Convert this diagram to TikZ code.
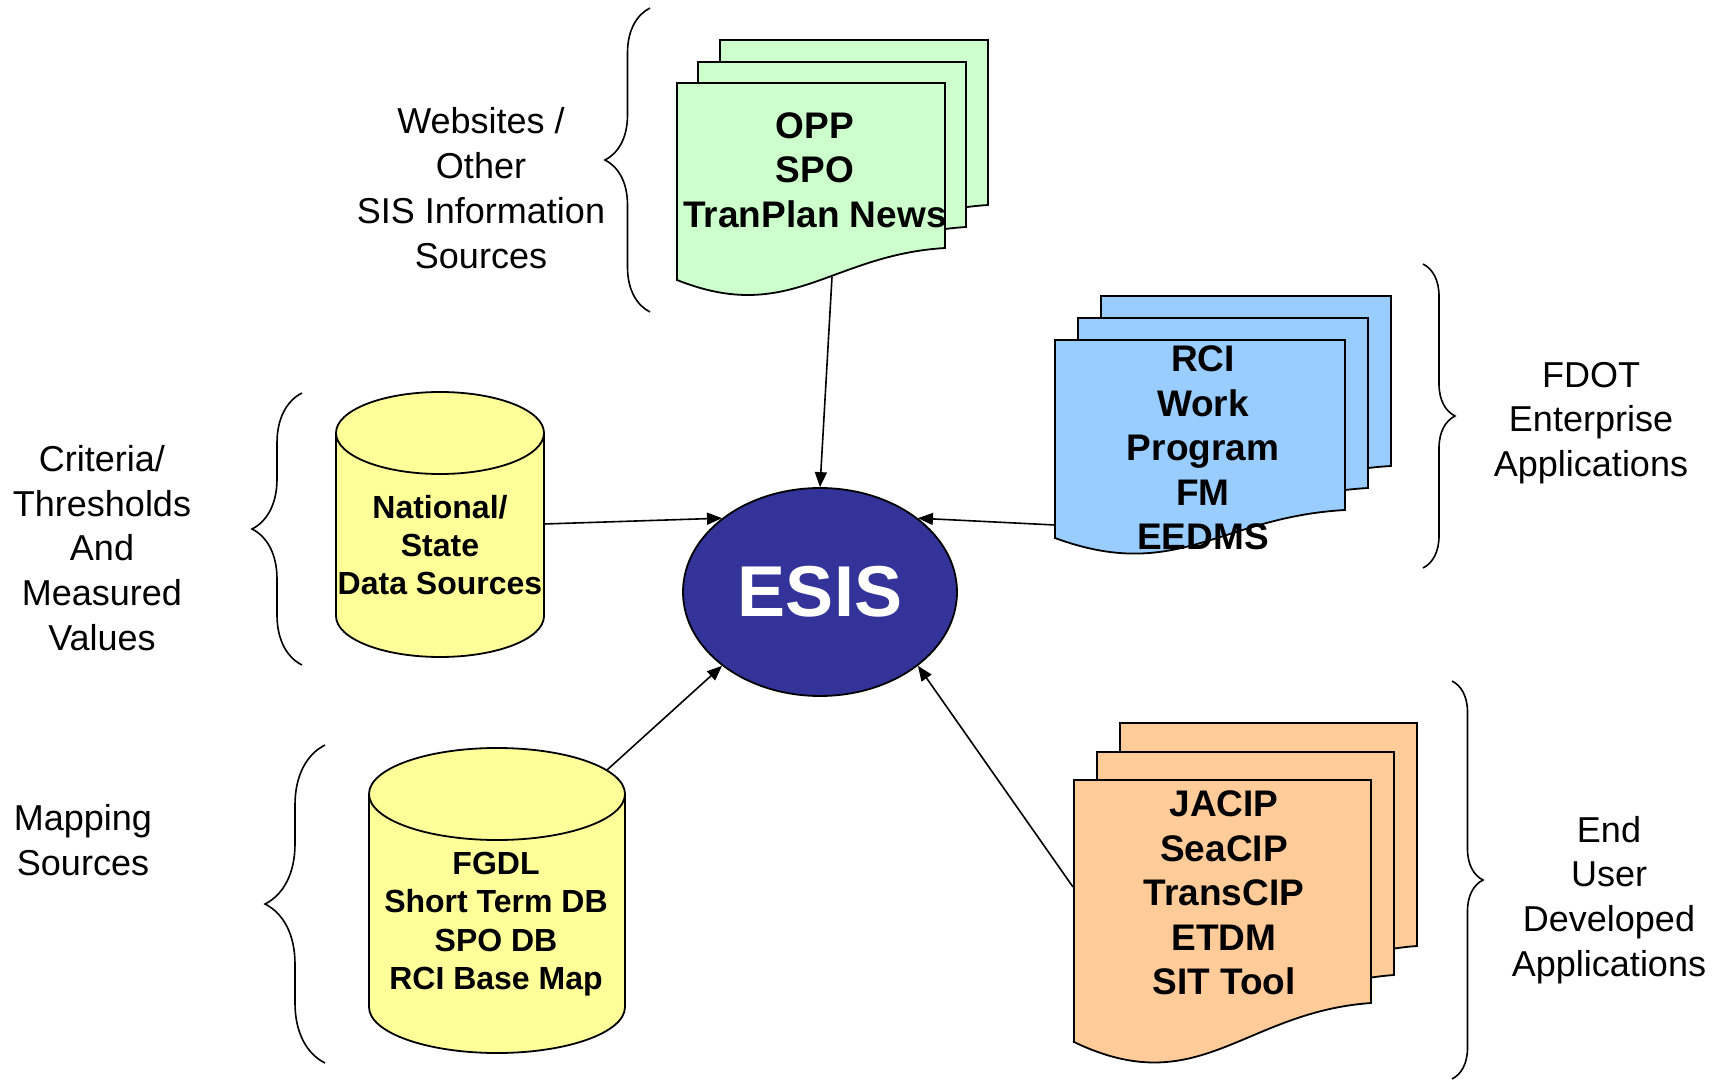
\documentclass[tikz,border=0pt]{standalone}
\usepackage{fontspec}
\setmainfont{Liberation Sans}
\usetikzlibrary{arrows.meta, shapes.geometric, decorations.pathreplacing}
\definecolor{docgreen}{HTML}{CCFFCC}
\definecolor{docblue}{HTML}{99CCFF}
\definecolor{docorange}{HTML}{FFCC99}
\definecolor{dbyellow}{HTML}{FFFF99}
\definecolor{esisblue}{HTML}{333399}

\begin{document}
\begin{tikzpicture}[x=0.5pt,y=0.5pt]
\tikzstyle{every node}+=[inner sep=0pt]
\tikzstyle{page}=[draw=black, line width=0.9pt]
\tikzstyle{can}=[draw=black, line width=0.9pt, fill=dbyellow]
\tikzstyle{pagetext}=[align=center, font=\bfseries\fontsize{18.5}{22.3}\selectfont]
\tikzstyle{cantext}=[align=center, font=\bfseries\fontsize{16}{19.2}\selectfont]
\tikzstyle{grouplabel}=[align=center, font=\fontsize{18}{22.4}\selectfont]
\tikzstyle{groupbrace}=[decorate, line width=0.8pt]
\tikzstyle{feed}=[-{Triangle[length=7.5pt,width=6pt]}, line width=0.8pt]
\useasboundingbox (0,0) rectangle (1726,-1081);
% websites stack
\draw [page, fill=docgreen] (720,-40) -- (988,-40) -- (988,-205) .. controls (873,-212) and (833,-282) .. (720,-237) -- cycle;
\draw [page, fill=docgreen] (698,-62) -- (966,-62) -- (966,-227) .. controls (851,-234) and (811,-304) .. (698,-259) -- cycle;
\draw [page, fill=docgreen] (677,-83) -- (945,-83) -- (945,-248) .. controls (830,-255) and (790,-325) .. (677,-280) -- cycle;
\node [pagetext] (opp) at (815,-170) {OPP\\SPO\\TranPlan News};
% enterprise stack
\draw [page, fill=docblue] (1101,-296) -- (1391,-296) -- (1391,-466) .. controls (1266,-473) and (1223,-539) .. (1101,-494) -- cycle;
\draw [page, fill=docblue] (1078,-318) -- (1368,-318) -- (1368,-488) .. controls (1243,-495) and (1200,-561) .. (1078,-516) -- cycle;
\draw [page, fill=docblue] (1055,-340) -- (1345,-340) -- (1345,-510) .. controls (1220,-517) and (1177,-583) .. (1055,-538) -- cycle;
\node [pagetext] (rci) at (1203,-448) {RCI\\Work\\Program\\FM\\EEDMS};
% end user stack
\draw [page, fill=docorange] (1120,-723) -- (1417,-723) -- (1417,-946) .. controls (1289,-955) and (1245,-1045) .. (1120,-985) -- cycle;
\draw [page, fill=docorange] (1097,-752) -- (1394,-752) -- (1394,-975) .. controls (1266,-984) and (1222,-1074) .. (1097,-1014) -- cycle;
\draw [page, fill=docorange] (1074,-780) -- (1371,-780) -- (1371,-1003) .. controls (1243,-1012) and (1199,-1102) .. (1074,-1042) -- cycle;
\node [pagetext] (jacip) at (1224,-893) {JACIP\\SeaCIP\\TransCIP\\ETDM\\SIT Tool};
% data cans
\draw [can] (336,-433) -- (336,-616) arc [start angle=180, end angle=360, x radius=104, y radius=41] -- (544,-433) -- cycle;
\draw [can] (440,-433) ellipse [x radius=104, y radius=41];
\node [cantext] (natl) at (440,-545) {National/\\State\\Data Sources};
\draw [can] (369,-794) -- (369,-1007) arc [start angle=180, end angle=360, x radius=128, y radius=46] -- (625,-794) -- cycle;
\draw [can] (497,-794) ellipse [x radius=128, y radius=46];
\node [cantext] (fgdl) at (496,-924) {FGDL\\Short Term DB\\SPO DB\\RCI Base Map};
% hub
\node [ellipse, draw=black, line width=0.9pt, fill=esisblue, minimum width=137pt, minimum height=104pt, text=white, font=\bfseries\fontsize{36}{40}\selectfont] (esis) at (820,-592) {ESIS};
\coordinate (opp-out) at (832,-277);
\coordinate (natl-out) at (544,-524);
\coordinate (rci-out) at (1055,-525);
\coordinate (fgdl-out) at (607,-770);
\coordinate (jacip-out) at (1073,-887);
\draw [feed] (opp-out) -- (esis.north);
\draw [feed] (natl-out) -- (esis.143);
\draw [feed] (rci-out) -- (esis.37);
\draw [feed] (fgdl-out) -- (esis.217);
\draw [feed] (jacip-out) -- (esis.323);
% group braces and labels
\draw [groupbrace, decoration={brace, amplitude=22.5pt}] (650,-312) -- (650,-8);
\draw [groupbrace, decoration={brace, amplitude=25pt}] (302,-665) -- (302,-393);
\draw [groupbrace, decoration={brace, amplitude=30pt}] (325,-1063) -- (325,-745);
\draw [groupbrace, decoration={brace, amplitude=16pt}] (1423,-264) -- (1423,-568);
\draw [groupbrace, decoration={brace, amplitude=15.5pt}] (1452,-681) -- (1452,-1079);
\node [grouplabel] (websites) at (481,-188) {Websites /\\Other\\SIS Information\\Sources};
\node [grouplabel] (criteria) at (102,-548) {Criteria/\\Thresholds\\And\\Measured\\Values};
\node [grouplabel] (mapping) at (83,-840) {Mapping\\Sources};
\node [grouplabel] (fdot) at (1591,-423) {FDOT\\Enterprise\\Applications};
\node [grouplabel] (enduser) at (1609,-900) {End\\User\\Developed\\Applications};
\end{tikzpicture}
\end{document}
